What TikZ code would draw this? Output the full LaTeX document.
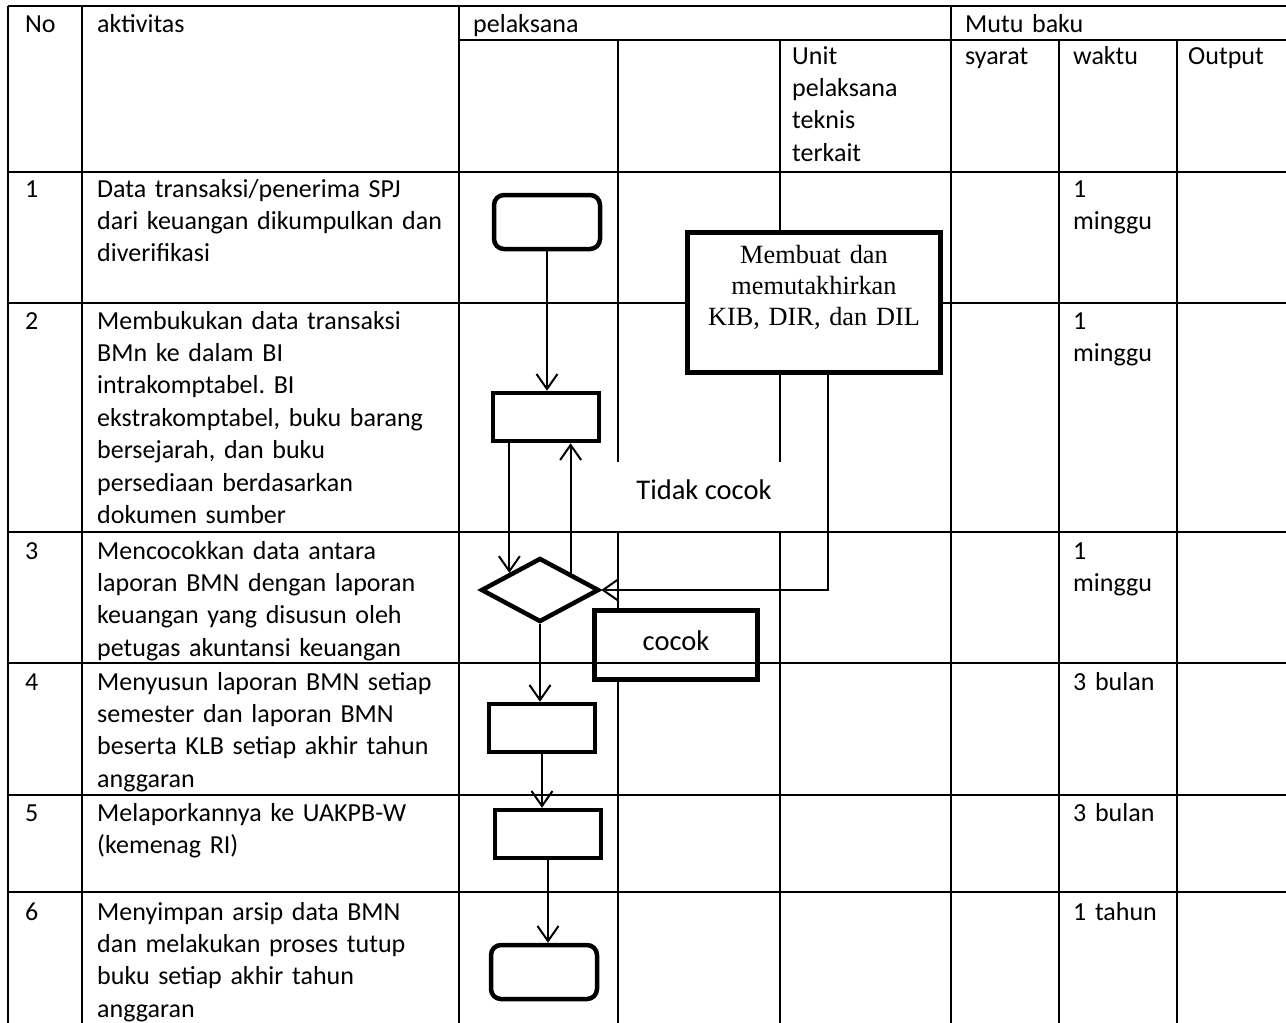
\documentclass[tikz,border=0pt]{standalone}
\usepackage{fontspec}
\setmainfont{Carlito}
\newfontfamily\timesfont{Liberation Serif}
\usetikzlibrary{shapes.geometric, arrows.meta, positioning}
\frenchspacing

\begin{document}
\begin{tikzpicture}[x=1pt, y=-1pt, >={Straight Barb[length=15pt,width=21pt]},
  txt/.style={anchor=base west, align=left, text width=350pt, inner sep=0pt, font=\fontsize{26}{32.4}\selectfont},
  proc/.style={draw, line width=4.5pt, minimum width=106pt, minimum height=48pt, inner sep=0pt},
  term/.style={proc, rounded corners=10pt, minimum height=54pt},
  grid/.style={line width=2.2pt},
  flow/.style={line width=2pt, ->}]
\useasboundingbox (0,0) rectangle (1286,1023);
% tabel
\draw[grid] (8,6) -- (1286,6);
\draw[grid] (459,40) -- (1286,40);
\foreach \y in {172,303,532,663,795,892} \draw[grid] (8,\y) -- (1286,\y);
\foreach \x in {8,82,459,951} \draw[grid] (\x,6) -- (\x,1023);
\foreach \x in {618,780,1059,1177} \draw[grid] (\x,40) -- (\x,1023);

% kepala tabel
\node[txt] (hno) at (25,32) {No};
\node[txt] (hakt) at (97,32) {aktivitas};
\node[txt] (hpel) at (473,32) {pelaksana};
\node[txt] (hmutu) at (965,32) {Mutu baku};
\node[txt] (hunit) at (792,64) {Unit\\pelaksana\\teknis\\terkait};
\node[txt] (hsyarat) at (965,64) {syarat};
\node[txt] (hwaktu) at (1073,64) {waktu};
\node[txt] (houtput) at (1188,64) {Output};

% isi tabel
\node[txt] (no1) at (25,197) {1};
\node[txt] (akt1) at (97,197) {Data transaksi/penerima SPJ\\dari keuangan dikumpulkan dan\\diverifikasi};
\node[txt] (wkt1) at (1073,197) {1\\minggu};
\node[txt] (no2) at (25,329) {2};
\node[txt] (akt2) at (97,329) {Membukukan data transaksi\\BMn ke dalam BI\\intrakomptabel. BI\\ekstrakomptabel, buku barang\\bersejarah, dan buku\\persediaan berdasarkan\\dokumen sumber};
\node[txt] (wkt2) at (1073,329) {1\\minggu};
\node[txt] (no3) at (25,559) {3};
\node[txt] (akt3) at (97,559) {Mencocokkan data antara\\laporan BMN dengan laporan\\keuangan yang disusun oleh\\petugas akuntansi keuangan};
\node[txt] (wkt3) at (1073,559) {1\\minggu};
\node[txt] (no4) at (25,690) {4};
\node[txt] (akt4) at (97,690) {Menyusun laporan BMN setiap\\semester dan laporan BMN\\beserta KLB setiap akhir tahun\\anggaran};
\node[txt] (wkt4) at (1073,690) {3 bulan};
\node[txt] (no5) at (25,821) {5};
\node[txt] (akt5) at (97,821) {Melaporkannya ke UAKPB-W\\(kemenag RI)};
\node[txt] (wkt5) at (1073,821) {3 bulan};
\node[txt] (no6) at (25,920) {6};
\node[txt] (akt6) at (97,920) {Menyimpan arsip data BMN\\dan melakukan proses tutup\\buku setiap akhir tahun\\anggaran};
\node[txt] (wkt6) at (1073,920) {1 tahun};

% bagan alir
\node[fill=white, inner sep=0pt, minimum width=200pt, text height=37pt, text depth=32pt,
  font=\fontsize{28.5}{34}\selectfont, anchor=base] (tidak) at (704,499) {Tidak cocok};
\node[term] (mulai) at (547,222) {};
\node[proc] (bukukan) at (546,417) {};
\node[draw, diamond, line width=4.5pt, minimum width=118pt, minimum height=64pt, inner sep=0pt] (cocokkan) at (540,590) {};
\node[proc] (susun) at (542,728) {};
\node[proc] (lapor) at (548,834) {};
\node[term] (selesai) at (544,972) {};
\node[draw, fill=white, line width=5pt, text width=253pt, inner sep=0pt, text height=31.5pt,
  text depth=108.5pt, align=center, font=\timesfont\fontsize{26.3}{31}\selectfont, anchor=north]
  (kib) at (814,229.5) {Membuat dan\\memutakhirkan\\KIB, DIR, dan DIL};
\node[draw, fill=white, line width=4.5pt, inner sep=0pt, minimum width=163pt, text height=39.5pt,
  text depth=29.5pt, font=\fontsize{28.5}{34}\selectfont, anchor=base] (cocok) at (676,650) {cocok};
\draw[grid] (583,663) -- (808,663);

\draw[flow] (mulai.south) -- (mulai.south |- bukukan.north);
\draw[flow] (bukukan.south -| cocokkan.north west) -- (cocokkan.north west);
\draw[flow] (cocokkan.north east) -- (cocokkan.north east |- bukukan.south);
\draw[flow] ([xshift=14pt]kib.south) |- (cocokkan.east);
\draw[flow] (cocokkan.south) -- (cocokkan.south |- susun.north);
\draw[flow] (susun.south) -- (susun.south |- lapor.north);
\draw[flow] (lapor.south) -- (lapor.south |- selesai.north);
\end{tikzpicture}
\end{document}
